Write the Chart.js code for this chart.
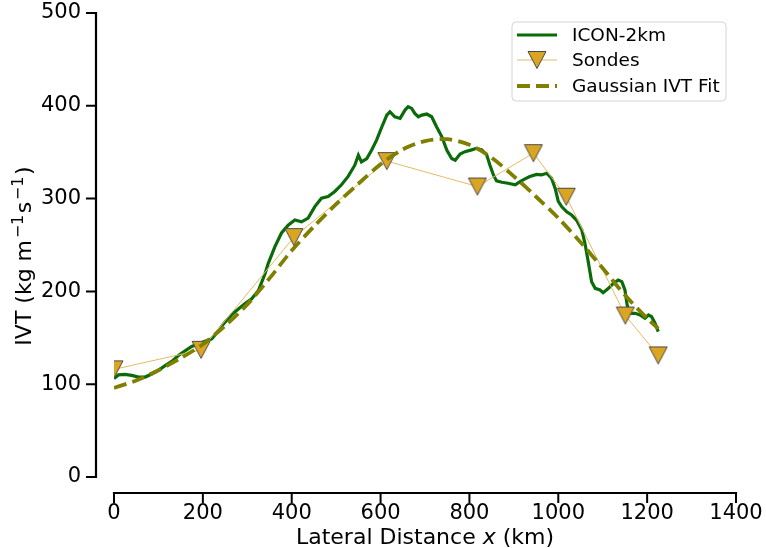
<!DOCTYPE html>
<html>
<head>
<meta charset="utf-8">
<script src="https://cdn.jsdelivr.net/npm/chart.js@4.4.1/dist/chart.umd.min.js"></script>
<style>
  html, body { margin: 0; padding: 0; background: #fff; }
  #wrap { width: 766px; height: 548px; }
</style>
</head>
<body>
<div id="wrap"><canvas id="ivt-chart" width="766" height="548"></canvas></div>
<script>
// ---- values ----
const iconX = [0, 10, 25, 40, 55, 70, 85, 100, 115, 130, 145, 160, 175, 190, 205, 220, 235, 250, 265, 280,
  295, 310, 325, 340, 347, 362, 377, 392, 407, 422, 437, 452, 467, 482, 497, 512, 527, 542, 550, 557,
  569, 580, 591, 603, 614, 621, 632, 644, 655, 662, 670, 677, 685, 693, 704, 715, 726, 738, 749, 760,
  768, 779, 790, 805, 816, 828, 839, 846, 854, 861, 873, 887, 903, 914, 925, 936, 951, 962, 974, 985,
  993, 1000, 1008, 1019, 1030, 1041, 1053, 1060, 1068, 1075, 1083, 1094, 1101, 1113, 1124, 1135, 1143, 1150, 1155, 1161,
  1173, 1184, 1195, 1203, 1210, 1218, 1225];
const iconY = [106, 110, 110.6, 109.5, 107.7, 107.7, 111, 115, 120, 124.6, 131, 136, 140.7, 143.5, 146.3, 148.9, 157.9, 166.9, 175, 181,
  187, 192, 201, 219, 230, 248, 263, 271.4, 277, 275, 279, 291.4, 300.5, 302.3, 307.7, 314.9, 323.9, 336, 346.8, 339.6,
  343.2, 352.3, 363, 377.4, 390, 393.6, 388.2, 386.4, 395.4, 399, 397.2, 391.8, 388.2, 390, 391.1, 388.2, 377.4, 366.6, 352.3, 343.2,
  341.4, 348, 350.6, 352.5, 354.2, 352.5, 347, 336.3, 325.5, 319.1, 317.6, 316.5, 314.8, 318.3, 321.2, 323.7, 326.1, 325.5, 327.3, 321.8,
  311, 297, 291.2, 285.8, 282.3, 276.9, 266.1, 251.8, 230.3, 210.5, 203.3, 201.5, 198.6, 203.3, 208.7, 212.3, 210.5, 201.5, 185.4, 176.4,
  176.4, 174.6, 171, 174.6, 172.8, 165.6, 156.6];

const sondeX = [0, 196, 405, 614, 818, 944, 1018, 1151, 1225];
const sondeY = [116, 137, 258.5, 340.4, 313, 349, 302, 174, 131];

const fitX = [0, 50, 100, 150, 200, 250, 300, 350, 400, 450, 500, 550, 600, 650, 700, 750,
  800, 850, 900, 950, 1000, 1050, 1100, 1150, 1200, 1225];
const fitY = [96, 104, 115, 128, 143, 163, 186, 214, 244, 270, 294, 316, 337, 353, 362, 364,
  358, 344, 324, 302, 279, 253, 225, 196, 171, 160];

const xTicks = [0, 200, 400, 600, 800, 1000, 1200, 1400];
const yTicks = [0, 100, 200, 300, 400, 500];

const FONT = '"DejaVu Sans", "Liberation Sans", sans-serif';

// downward triangle marker like matplotlib 'v'
function makeTriangle() {
    const c = document.createElement('canvas');
    c.width = 20; c.height = 20;
    const g = c.getContext('2d');
    g.beginPath();
    g.moveTo(1, 1.5);
    g.lineTo(19, 1.5);
    g.lineTo(10, 18.5);
    g.closePath();
    g.fillStyle = '#DAA520';
    g.fill();
    g.strokeStyle = '#4a4a4a';
    g.lineWidth = 1;
    g.stroke();
    return c;
}
const tri = makeTriangle();

const toPts = (xs, ys) => xs.map((x, i) => ({ x, y: ys[i] }));

// offset spines + tick marks + axis titles
const spinePlugin = {
    id: 'spines',
    afterDraw(chart) {
        const { ctx, scales: { x, y } } = chart;
        const axY = y.getPixelForValue(0) + 16;
        const axX = x.getPixelForValue(0) - 18;
        ctx.save();
        ctx.strokeStyle = '#000';
        ctx.lineWidth = 2.2;
        ctx.lineCap = 'square';
        ctx.beginPath();
        ctx.moveTo(x.getPixelForValue(xTicks[0]), axY);
        ctx.lineTo(x.getPixelForValue(xTicks[xTicks.length - 1]), axY);
        ctx.moveTo(axX, y.getPixelForValue(yTicks[0]));
        ctx.lineTo(axX, y.getPixelForValue(yTicks[yTicks.length - 1]));
        ctx.stroke();
        ctx.lineCap = 'butt';
        ctx.lineWidth = 2;
        ctx.beginPath();
        xTicks.forEach(v => {
            const px = x.getPixelForValue(v);
            ctx.moveTo(px, axY);
            ctx.lineTo(px, axY + 10);
        });
        yTicks.forEach(v => {
            const py = y.getPixelForValue(v);
            ctx.moveTo(axX, py);
            ctx.lineTo(axX - 10, py);
        });
        ctx.stroke();

        // axis titles (mixed fonts, so drawn here)
        ctx.fillStyle = '#000';
        ctx.textAlign = 'left';
        ctx.textBaseline = 'alphabetic';
        const xn = '22px ' + FONT;
        const xParts = [['Lateral Distance ', xn, 0], ['x', 'oblique 22px ' + FONT, 0], [' (km)', xn, 0]];
        const yn = '22px ' + FONT, ys = '16px ' + FONT;
        const yParts = [['IVT (kg m', yn, 0], ['\u200a\u22121\u200a', ys, -8.5], ['s', yn, 0], ['\u200a\u22121\u200a', ys, -8.5], [')', yn, 0]];
        const widthOf = parts => parts.reduce((s, p) => { ctx.font = p[1]; return s + ctx.measureText(p[0]).width; }, 0);
        const drawParts = (parts, x0, base) => {
            let cx = x0;
            parts.forEach(p => {
                ctx.font = p[1];
                ctx.fillText(p[0], cx, base + p[2]);
                cx += ctx.measureText(p[0]).width;
            });
        };
        const cxMid = (chart.chartArea.left + chart.chartArea.right) / 2;
        drawParts(xParts, cxMid - widthOf(xParts) / 2, 544);

        ctx.save();
        ctx.translate(31, 256);
        ctx.rotate(-Math.PI / 2);
        drawParts(yParts, -widthOf(yParts) / 2, 0);
        ctx.restore();
        ctx.restore();
    }
};

// matplotlib style legend box
const legendPlugin = {
    id: 'mplLegend',
    afterDraw(chart) {
        const { ctx } = chart;
        const bx = 512, by = 22, bw = 214, bh = 79;
        ctx.save();
        ctx.beginPath();
        ctx.roundRect(bx, by, bw, bh, 4);
        ctx.fillStyle = 'rgba(255,255,255,0.8)';
        ctx.fill();
        ctx.strokeStyle = '#d4d4d4';
        ctx.lineWidth = 1;
        ctx.stroke();

        const rows = [35, 60, 86];
        const x0 = 517, x1 = 557;
        chart.data.datasets.forEach((ds, i) => {
            const ry = rows[i];
            ctx.strokeStyle = ds.borderColor;
            ctx.lineWidth = ds.borderWidth;
            ctx.setLineDash(ds.borderDash || []);
            ctx.beginPath();
            ctx.moveTo(x0, ry);
            ctx.lineTo(x1, ry);
            ctx.stroke();
            ctx.setLineDash([]);
            if (ds.pointStyle instanceof HTMLCanvasElement) {
                ctx.drawImage(ds.pointStyle, (x0 + x1) / 2 - 10, ry - 10);
            }
            ctx.fillStyle = '#000';
            ctx.font = '18.5px ' + FONT;
            ctx.textAlign = 'left';
            ctx.textBaseline = 'middle';
            ctx.fillText(ds.label, 572, ry + 1);
        });
        ctx.restore();
    }
};

new Chart(document.getElementById('ivt-chart'), {
    type: 'scatter',
    data: {
        datasets: [
            {
                label: 'ICON-2km',
                data: toPts(iconX, iconY),
                showLine: true,
                borderColor: '#0b6b0b',
                borderWidth: 3.2,
                pointRadius: 0,
                tension: 0,
                order: 3,
                clip: 0
            },
            {
                label: 'Sondes',
                data: toPts(sondeX, sondeY),
                showLine: true,
                borderColor: '#e2bb66',
                borderWidth: 1,
                pointStyle: tri,
                pointRadius: 9,
                tension: 0,
                order: 2,
                clip: 0
            },
            {
                label: 'Gaussian IVT Fit',
                data: toPts(fitX, fitY),
                showLine: true,
                borderColor: '#808000',
                borderWidth: 3.8,
                borderDash: [13, 6],
                pointRadius: 0,
                tension: 0.3,
                order: 1,
                clip: 0
            }
        ]
    },
    options: {
        responsive: false,
        animation: false,
        layout: { padding: { left: 0, top: 13, right: 30, bottom: 0 } },
        plugins: {
            legend: { display: false },
            tooltip: { enabled: false }
        },
        scales: {
            x: {
                type: 'linear',
                min: 0,
                max: 1400,
                afterBuildTicks: s => { s.ticks = xTicks.map(v => ({ value: v })); },
                afterFit: s => { s.height = 71; s.paddingLeft = 0; s.paddingRight = 0; },
                grid: { display: false, drawTicks: false },
                border: { display: false },
                ticks: { color: '#000', padding: 24, maxRotation: 0, font: { family: FONT, size: 21 }, callback: v => String(v) }
            },
            y: {
                type: 'linear',
                min: 0,
                max: 500,
                afterBuildTicks: s => { s.ticks = yTicks.map(v => ({ value: v })); },
                afterFit: s => { s.width = 114; s.paddingTop = 0; s.paddingBottom = 0; },
                grid: { display: false, drawTicks: false },
                border: { display: false },
                ticks: { color: '#000', padding: 33, font: { family: FONT, size: 21 }, callback: v => String(v) }
            }
        }
    },
    plugins: [spinePlugin, legendPlugin]
});
</script>
</body>
</html>
